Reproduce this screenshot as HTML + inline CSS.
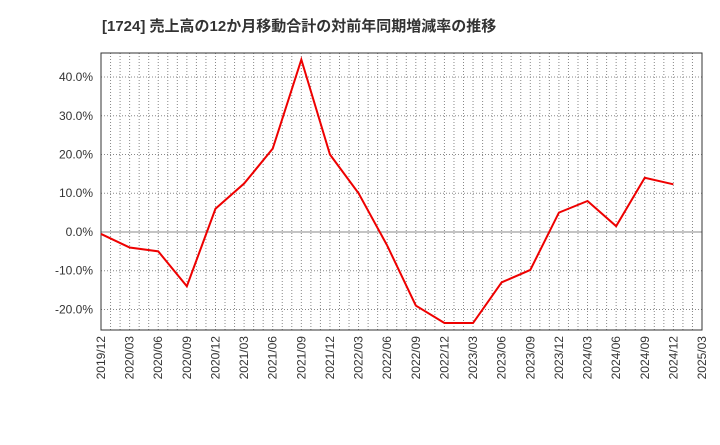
<!DOCTYPE html>
<html><head><meta charset="utf-8"><style>
body{margin:0;background:#fff;font-family:"Liberation Sans","Noto Sans CJK JP",sans-serif}
</style></head><body>
<svg id="c" width="720" height="440" xmlns="http://www.w3.org/2000/svg">
<text x="102" y="31" font-size="15" font-weight="bold" fill="#333">[1724]  売上高の12か月移動合計の対前年同期増減率の推移</text>
</svg>
<script>
const xLabels=["2019/12","2020/03","2020/06","2020/09","2020/12","2021/03","2021/06","2021/09","2021/12","2022/03","2022/06","2022/09","2022/12","2023/03","2023/06","2023/09","2023/12","2024/03","2024/06","2024/09","2024/12","2025/03"];
const values=[-0.5,-4,-5,-14,6,12.5,21.5,44.5,20,10,-3.5,-19,-23.5,-23.5,-13,-9.8,5,8,1.5,14,12.3];
const yTicks=[-20,-10,0,10,20,30,40];
const L=101,R=702,T=53,B=330,yMin=-25.3,yMax=46.2;
const svg=document.getElementById('c');const NS="http://www.w3.org/2000/svg";
const xs=i=>L+i*(R-L)/(xLabels.length-1);
const ys=v=>T+(yMax-v)/(yMax-yMin)*(B-T);
function mk(t,a){const e=document.createElementNS(NS,t);for(const k in a)e.setAttribute(k,a[k]);svg.appendChild(e);return e;}
const months=(xLabels.length-1)*3;
for(let m=1;m<months;m++){const x=L+m*(R-L)/months;
const g=mk('line',{x1:x,x2:x,y1:T,y2:B,stroke:'#888','stroke-dasharray':'1,2','stroke-width':1});
}
yTicks.forEach(v=>{const y=ys(v);
const g=mk('line',{x1:L,x2:R,y1:y,y2:y,stroke:'#888','stroke-dasharray':v===0?'':'1,2','stroke-width':1});

const t=mk('text',{x:L-8,y:y+4,'text-anchor':'end','font-size':12,fill:'#333'});t.textContent=v.toFixed(1)+'%';
});
xLabels.forEach((s,i)=>{const x=xs(i);
const t=mk('text',{x:x+4,y:B+6,'text-anchor':'end','font-size':12,fill:'#333',transform:`rotate(-90 ${x+4} ${B+6})`});t.textContent=s;
});
const f=mk('rect',{x:L,y:T,width:R-L,height:B-T,fill:'none',stroke:'#333','stroke-width':1});

const p=mk('polyline',{points:values.map((v,i)=>xs(i)+','+ys(v)).join(' '),fill:'none',stroke:'#e00','stroke-width':2});

</script>
</body></html>
